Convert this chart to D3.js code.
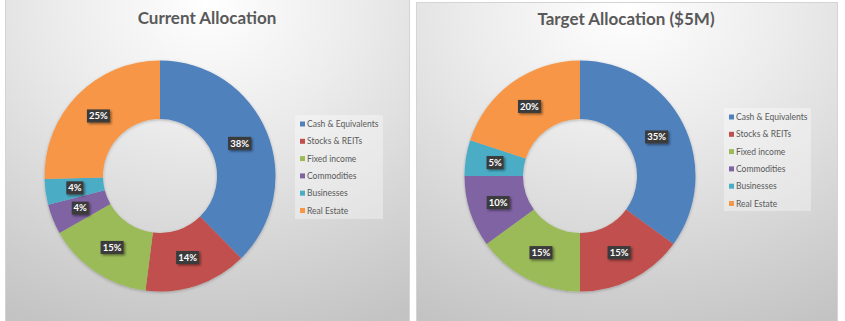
<!DOCTYPE html>
<html>
<head>
<meta charset="utf-8">
<script src="https://cdn.jsdelivr.net/npm/d3@7"></script>
<style>
  html, body { margin: 0; padding: 0; background: #ffffff; }
  svg { display: block; }
</style>
</head>
<body>
<svg id="chart" width="845" height="321"></svg>
<script>
// ---- data ----
const categories = ["Cash & Equivalents", "Stocks & REITs", "Fixed income", "Commodities", "Businesses", "Real Estate"];
const currentValues = [37.6, 14.4, 14.8, 4.2, 3.6, 25.4];
const targetValues = [35, 15, 15, 10, 5, 20];
const titles = ["Current Allocation", "Target Allocation ($5M)"];
const colors = ["#4F81BD", "#C0504D", "#9BBB59", "#8064A2", "#4BACC6", "#F79646"];

const svg = d3.select("#chart");
const defs = svg.append("defs");

const grad = defs.append("radialGradient").attr("id", "bg")
  .attr("cx", "0.5").attr("cy", "0.02").attr("r", "1.05")
  .attr("fx", "0.5").attr("fy", "0.02");
grad.append("stop").attr("offset", "0").attr("stop-color", "#ffffff");
grad.append("stop").attr("offset", "0.35").attr("stop-color", "#ececec");
grad.append("stop").attr("offset", "1").attr("stop-color", "#c3c3c3");

const sh = defs.append("filter").attr("id", "shadow").attr("x", "-30%").attr("y", "-30%").attr("width", "160%").attr("height", "160%");
sh.append("feDropShadow").attr("dx", 1.5).attr("dy", 1.5).attr("stdDeviation", 1.2).attr("flood-color", "#000").attr("flood-opacity", 0.45);
const dsh = defs.append("filter").attr("id", "dshadow").attr("x", "-10%").attr("y", "-10%").attr("width", "120%").attr("height", "120%");
dsh.append("feDropShadow").attr("dx", 0).attr("dy", 1).attr("stdDeviation", 1.5).attr("flood-color", "#000").attr("flood-opacity", 0.25);

const font = "Lato, 'Open Sans', sans-serif";

const panels = [
  { x: 5.5, y: -1, w: 404, h: 330, cx: 160, cy: 176, titleX: 207, titleY: 24, values: currentValues,
    legend: { x: 295, y: 115, w: 88, h: 104 } },
  { x: 416.5, y: 2.5, w: 421, h: 330, cx: 580, cy: 176, titleX: 626, titleY: 25, values: targetValues,
    legend: { x: 724, y: 108, w: 87, h: 103 } }
];

const outerR = 115.5, innerR = 57;
const pie = d3.pie().sort(null).value(d => d.v);
const arc = d3.arc().innerRadius(innerR).outerRadius(outerR);
const labelArc = d3.arc().innerRadius(86).outerRadius(86);

panels.forEach((p, pi) => {
  const g = svg.append("g");
  g.append("rect").attr("x", p.x).attr("y", p.y).attr("width", p.w).attr("height", p.h)
    .attr("fill", "url(#bg)").attr("stroke", "#d4d4d4").attr("stroke-width", 1);

  g.append("text").attr("x", p.titleX).attr("y", p.titleY)
    .attr("text-anchor", "middle").attr("font-family", font).attr("font-weight", "bold")
    .attr("font-size", 17).attr("fill", "#595959").text(titles[pi]);

  const data = categories.map((c, i) => ({ c, v: p.values[i], col: colors[i] }));
  const arcs = pie(data);
  const dg = g.append("g").attr("transform", `translate(${p.cx},${p.cy})`);
  dg.append("g").attr("filter", "url(#dshadow)")
    .selectAll("path").data(arcs).join("path")
    .attr("d", arc).attr("fill", d => d.data.col);

  const lg = dg.selectAll("g.lbl").data(arcs).join("g").attr("class", "lbl")
    .attr("transform", d => `translate(${labelArc.centroid(d)})`);
  lg.each(function(d) {
    const t = Math.round(d.data.v) + "%";
    const w = t.length === 2 ? 17 : 23;
    const s = d3.select(this);
    s.append("rect").attr("x", -w / 2).attr("y", -6.5).attr("width", w).attr("height", 13)
      .attr("fill", "#3a3a3a").attr("filter", "url(#shadow)");
    s.append("text").attr("x", 0).attr("y", 3.3).attr("text-anchor", "middle")
      .attr("font-family", font).attr("font-weight", "bold").attr("font-size", 9.5)
      .attr("fill", "#ffffff").text(t);
  });

  const L = p.legend;
  g.append("rect").attr("x", L.x).attr("y", L.y).attr("width", L.w).attr("height", L.h)
    .attr("fill", "#ffffff").attr("fill-opacity", 0.35);
  const items = g.selectAll("g.leg").data(data).join("g").attr("class", "leg")
    .attr("transform", (d, i) => `translate(${L.x + 5},${L.y + 9 + i * 17.3})`);
  items.append("rect").attr("x", 0).attr("y", -2.5).attr("width", 5).attr("height", 5).attr("fill", d => d.col);
  items.append("text").attr("x", 7).attr("y", 3).attr("font-family", font).attr("font-size", 8.5)
    .attr("fill", "#595959").text(d => d.c);
});
</script>
</body>
</html>
